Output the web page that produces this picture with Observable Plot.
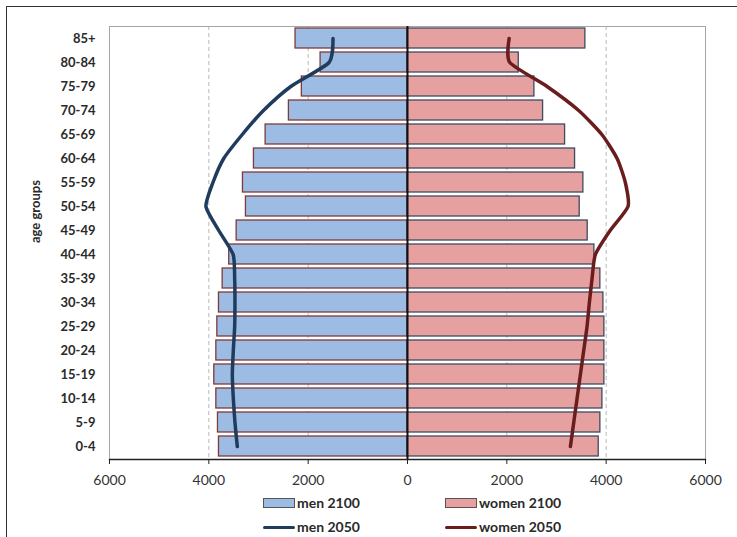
<!DOCTYPE html>
<html>
<head>
<meta charset="utf-8">
<script src="https://cdn.jsdelivr.net/npm/d3@7"></script>
<script src="https://cdn.jsdelivr.net/npm/@observablehq/plot@0.6"></script>
<style>
  html, body { margin: 0; padding: 0; background: #fff; }
  body { position: relative; width: 737px; height: 537px; overflow: hidden; font-family: Lato, "Open Sans", sans-serif; }
  #border { position: absolute; left: 6px; top: 6px; width: 760px; height: 560px; border: 1.5px solid #333; box-sizing: border-box; }
  #chart { position: absolute; left: 0; top: 0; }
  .lg { position: absolute; font-size: 14px; font-weight: bold; color: #2a2a2a; line-height: 14px; }
  .sw { position: absolute; box-sizing: border-box; }
</style>
</head>
<body>
<div id="border"></div>
<div id="chart"></div>
<script>
const ages = ["0-4","5-9","10-14","15-19","20-24","25-29","30-34","35-39","40-44","45-49","50-54","55-59","60-64","65-69","70-74","75-79","80-84","85+"];
const men2100 = [3796, 3816, 3849, 3890, 3849, 3829, 3796, 3722, 3590, 3440, 3253, 3313, 3092, 2857, 2388, 2127, 1750, 2254];
const women2100 = [3850, 3883, 3924, 3964, 3964, 3964, 3944, 3883, 3763, 3628, 3467, 3541, 3374, 3173, 2730, 2555, 2240, 3581];
const men2050 = [3427, 3474, 3507, 3527, 3507, 3480, 3474, 3480, 3510, 3800, 4058, 3917, 3700, 3326, 2900, 2350, 1580, 1500];
const women2050 = [3280, 3347, 3414, 3481, 3548, 3615, 3662, 3716, 3783, 4080, 4440, 4386, 4220, 3913, 3447, 2810, 2060, 2046];
const xTicks = [-6000, -4000, -2000, 0, 2000, 4000, 6000];
const gridTicks = [-4000, -2000, 2000, 4000];
const series = ["men 2100", "women 2100", "men 2050", "women 2050"];

const data = ages.map((a, i) => ({age: a, m100: men2100[i], w100: women2100[i], m50: men2050[i], w50: women2050[i]}));

const C = {
  menFill: "#9dbce4", menStroke: "#7e3b3b",
  womenFill: "#e6a0a0", womenStroke: "#3f4a60",
  menLine: "#1f3c5e", womenLine: "#6a1d1d"
};

const H = 490;
const chart = Plot.plot({
  width: 737,
  height: H,
  marginLeft: 109,
  marginRight: 32,
  marginTop: 26,
  marginBottom: H - 459,
  style: {fontFamily: "Lato, 'Open Sans', sans-serif", background: "transparent"},
  x: {domain: [-6000, 6000]},
  y: {domain: ages.slice().reverse(), paddingInner: 0.15, paddingOuter: 0},
  marks: [
    Plot.gridX(gridTicks, {stroke: "#b8b8b8", strokeOpacity: 1, strokeDasharray: "4,3"}),
    Plot.frame({stroke: "#a6a6a6"}),
    Plot.barX(data, {x1: 0, x2: d => -d.m100, y: "age", fill: C.menFill, stroke: C.menStroke, strokeWidth: 1.3}),
    Plot.barX(data, {x1: 0, x2: d => d.w100, y: "age", fill: C.womenFill, stroke: C.womenStroke, strokeWidth: 1.3}),
    Plot.ruleX([0], {stroke: "#111", strokeWidth: 2}),
    Plot.line(data, {x: d => -d.m50, y: "age", stroke: C.menLine, strokeWidth: 3.5, curve: "cardinal", tension: 0.4}),
    Plot.line(data, {x: d => d.w50, y: "age", stroke: C.womenLine, strokeWidth: 3.5, curve: "cardinal", tension: 0.4}),
    Plot.frame({anchor: "bottom", stroke: "#222", strokeWidth: 1.3}),
    Plot.axisX(xTicks, {tickSize: 5, tickPadding: 11, tickFormat: d => String(Math.abs(d)), fontSize: 14, fill: "#333", stroke: "#222", label: null}),
    Plot.axisY({tickSize: 0, tickPadding: 14, fontSize: 13, fontWeight: "bold", fill: "#2a2a2a", label: null}),
    Plot.text(["age groups"], {frameAnchor: "left", dx: -74, rotate: -90, fontSize: 13, fontWeight: "bold", fill: "#2a2a2a"})
  ]
});
document.getElementById("chart").appendChild(chart);

// legend
const body = document.body;
const legendItems = [
  {label: series[0], type: "box", fill: C.menFill, stroke: "#555", left: 263, top: 498},
  {label: series[1], type: "box", fill: C.womenFill, stroke: "#555", left: 445, top: 498},
  {label: series[2], type: "line", fill: C.menLine, left: 263, top: 498 + 24},
  {label: series[3], type: "line", fill: C.womenLine, left: 445, top: 498 + 24}
];
for (const it of legendItems) {
  const sw = document.createElement("div");
  sw.className = "sw";
  sw.style.left = it.left + "px";
  sw.style.width = "32px";
  if (it.type === "box") {
    sw.style.top = it.top + "px";
    sw.style.height = "10px";
    sw.style.background = it.fill;
    sw.style.border = "1.5px solid " + it.stroke;
  } else {
    sw.style.top = (it.top + 3.5) + "px";
    sw.style.height = "3.5px";
    sw.style.background = it.fill;
    sw.style.borderRadius = "2px";
  }
  body.appendChild(sw);
  const t = document.createElement("div");
  t.className = "lg";
  t.textContent = it.label;
  t.style.left = (it.left + 34) + "px";
  t.style.top = (it.top - 2) + "px";
  body.appendChild(t);
}
</script>
</body>
</html>
